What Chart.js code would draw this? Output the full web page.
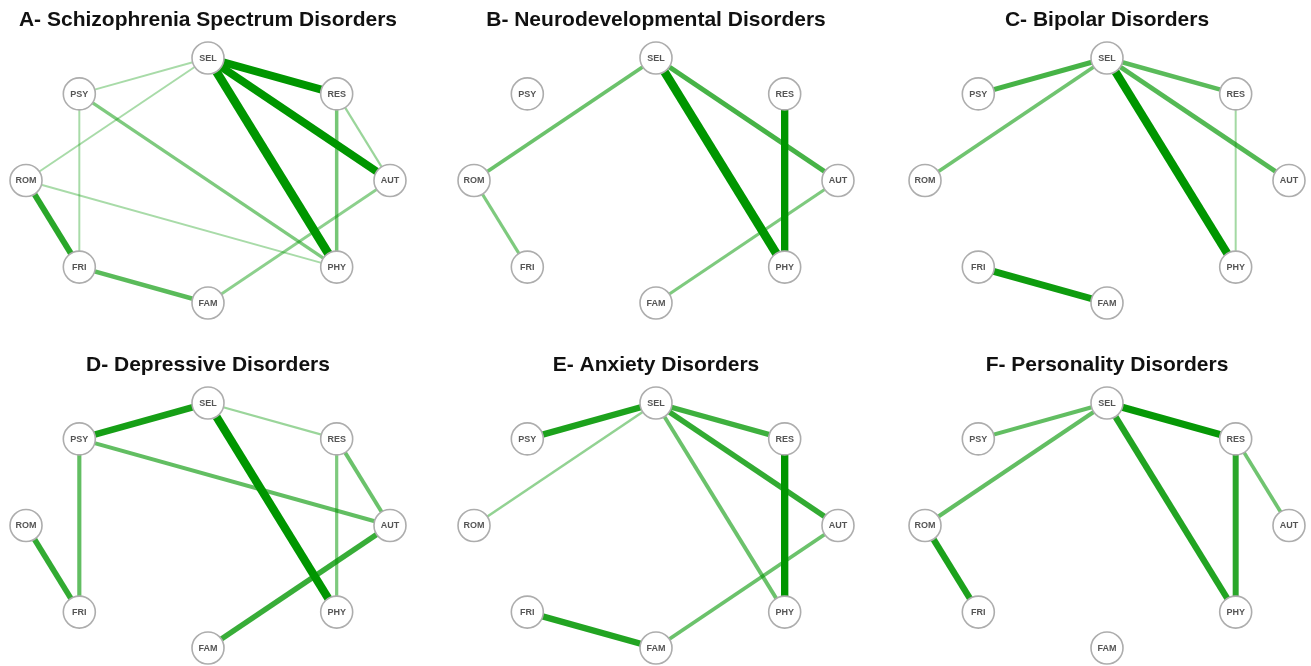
<!DOCTYPE html>
<html>
<head>
<meta charset="utf-8">
<script src="https://cdn.jsdelivr.net/npm/chart.js@4.4.1/dist/chart.umd.min.js"></script>
<style>
    body { margin: 0; background: #fff; width: 1311px; height: 666px; overflow: hidden; position: relative; }
    .panel { position: absolute; width: 404px; }
    .top { top: 0; height: 330px; }
    .bottom { top: 345px; height: 321px; }
</style>
</head>
<body>
<div class="panel top" style="left:6px"><canvas id="chart-A"></canvas></div>
<div class="panel top" style="left:454px"><canvas id="chart-B"></canvas></div>
<div class="panel top" style="left:905px"><canvas id="chart-C"></canvas></div>
<div class="panel bottom" style="left:6px"><canvas id="chart-D"></canvas></div>
<div class="panel bottom" style="left:454px"><canvas id="chart-E"></canvas></div>
<div class="panel bottom" style="left:905px"><canvas id="chart-F"></canvas></div>

<script>
// nodes, clockwise from the top of the circle
const nodes = ['SEL', 'RES', 'AUT', 'PHY', 'FAM', 'FRI', 'ROM', 'PSY'];

const titles = [
    'A- Schizophrenia Spectrum Disorders',
    'B- Neurodevelopmental Disorders',
    'C- Bipolar Disorders',
    'D- Depressive Disorders',
    'E- Anxiety Disorders',
    'F- Personality Disorders'
];

// edges: [from, to, weight]
const edgesA = [
    ['SEL', 'RES', 0.85], ['SEL', 'AUT', 0.85], ['SEL', 'PHY', 0.95],
    ['SEL', 'PSY', 0.2], ['SEL', 'ROM', 0.2], ['PSY', 'PHY', 0.35],
    ['PSY', 'FRI', 0.2], ['ROM', 'FRI', 0.65], ['ROM', 'PHY', 0.2],
    ['RES', 'AUT', 0.25], ['RES', 'PHY', 0.38], ['AUT', 'FAM', 0.3],
    ['FRI', 'FAM', 0.48]
];
const edgesB = [
    ['SEL', 'ROM', 0.42], ['SEL', 'PHY', 0.95], ['SEL', 'AUT', 0.55],
    ['RES', 'PHY', 0.8], ['AUT', 'FAM', 0.35], ['ROM', 'FRI', 0.35]
];
const edgesC = [
    ['SEL', 'PSY', 0.55], ['SEL', 'ROM', 0.4], ['SEL', 'RES', 0.48],
    ['SEL', 'AUT', 0.5], ['SEL', 'PHY', 0.9], ['RES', 'PHY', 0.22],
    ['FRI', 'FAM', 0.75]
];
const edgesD = [
    ['SEL', 'PSY', 0.72], ['SEL', 'RES', 0.25], ['SEL', 'PHY', 0.9],
    ['PSY', 'AUT', 0.45], ['PSY', 'FRI', 0.45], ['ROM', 'FRI', 0.62],
    ['RES', 'AUT', 0.42], ['RES', 'PHY', 0.35], ['AUT', 'FAM', 0.6]
];
const edgesE = [
    ['SEL', 'PSY', 0.7], ['SEL', 'ROM', 0.28], ['SEL', 'RES', 0.58],
    ['SEL', 'AUT', 0.62], ['SEL', 'PHY', 0.42], ['RES', 'PHY', 0.8],
    ['AUT', 'FAM', 0.42], ['FRI', 'FAM', 0.68]
];
const edgesF = [
    ['SEL', 'PSY', 0.45], ['SEL', 'ROM', 0.45], ['SEL', 'RES', 0.78],
    ['SEL', 'PHY', 0.68], ['RES', 'PHY', 0.65], ['RES', 'AUT', 0.4],
    ['ROM', 'FRI', 0.7]
];

const allEdges = [edgesA, edgesB, edgesC, edgesD, edgesE, edgesF];
const ids = ['chart-A', 'chart-B', 'chart-C', 'chart-D', 'chart-E', 'chart-F'];

// circle layout in unit coordinates
const pos = {};
nodes.forEach((n, i) => {
    const a = (90 - i * 45) * Math.PI / 180;
    pos[n] = { x: Math.cos(a), y: Math.sin(a) };
});

const nodeLabels = {
    id: 'nodeLabels',
    afterDatasetsDraw(chart) {
        const meta = chart.getDatasetMeta(0);
        const ctx = chart.ctx;
        ctx.save();
        ctx.font = 'bold 9px "Liberation Sans", Arial, sans-serif';
        ctx.fillStyle = '#555';
        ctx.textAlign = 'center';
        ctx.textBaseline = 'middle';
        meta.data.forEach((pt, i) => ctx.fillText(nodes[i], pt.x, pt.y + 0.5));
        ctx.restore();
    }
};

function makeChart(id, title, edges, bottomPad) {
    const datasets = [{
        label: 'nodes',
        data: nodes.map(n => pos[n]),
        pointRadius: 16,
        pointBackgroundColor: '#fff',
        pointBorderColor: '#adadad',
        pointBorderWidth: 1.6,
        showLine: false,
        order: 0,
        clip: false
    }];
    edges.forEach(([a, b, w]) => {
        datasets.push({
            label: a + '-' + b,
            data: [pos[a], pos[b]],
            showLine: true,
            borderColor: 'rgba(0,150,0,' + Math.min(1, 0.12 + w * 1.1) + ')',
            borderWidth: Math.max(2, w * 9.2),
            pointRadius: 0,
            order: 1,
            clip: false
        });
    });

    new Chart(document.getElementById(id), {
        type: 'scatter',
        data: { datasets: datasets },
        plugins: [nodeLabels],
        options: {
            animation: false,
            responsive: true,
            maintainAspectRatio: false,
            events: [],
            layout: { autoPadding: false, padding: { left: 0, right: 0, top: 0, bottom: bottomPad } },
            scales: {
                x: { type: 'linear', min: -1.11, max: 1.11, display: false },
                y: { type: 'linear', min: -1, max: 1, display: false }
            },
            plugins: {
                legend: { display: false },
                tooltip: { enabled: false },
                title: {
                    display: true,
                    text: title,
                    color: '#111',
                    font: { family: '"Liberation Sans", Arial, sans-serif', size: 21, weight: 'bold' },
                    padding: { top: 7.4, bottom: 25.4 }
                }
            }
        }
    });
}

ids.forEach((id, i) => makeChart(id, titles[i], allEdges[i], i < 3 ? 27 : 18));
</script>
</body>
</html>
